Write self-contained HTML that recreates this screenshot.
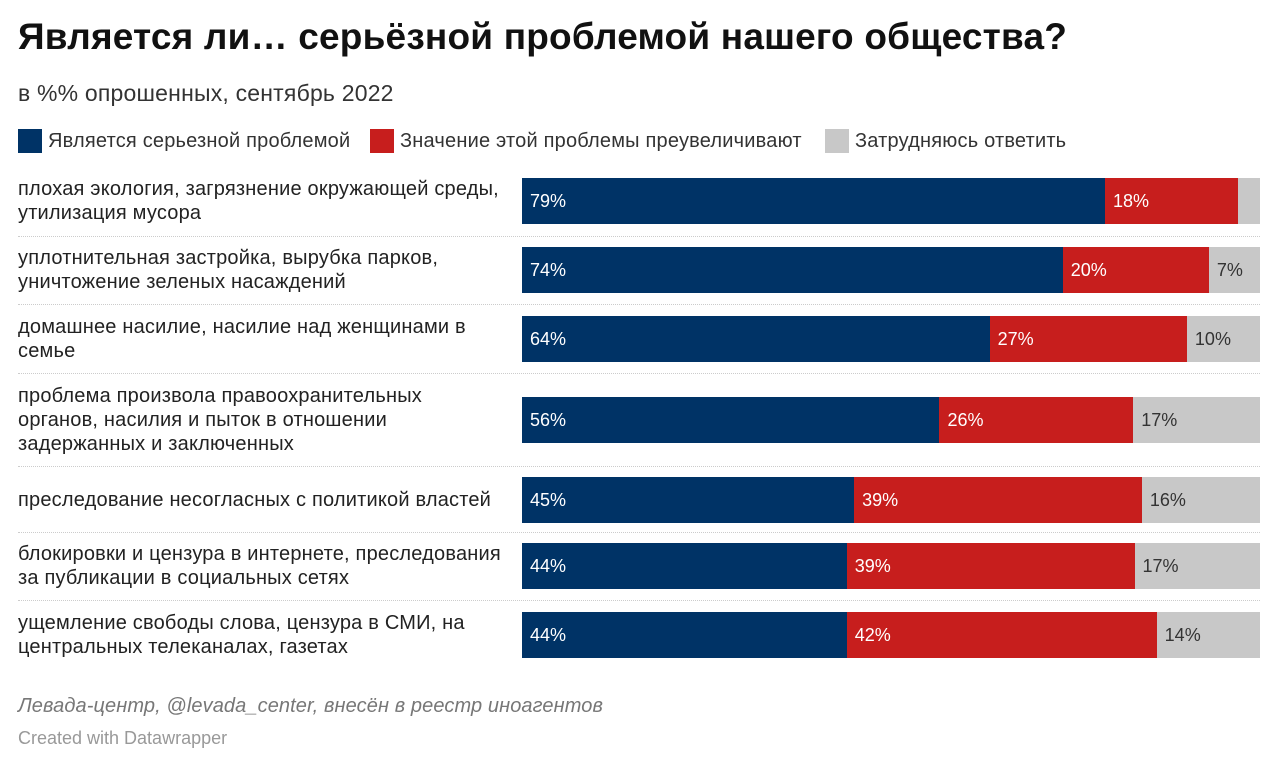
<!DOCTYPE html>
<html><head><meta charset="utf-8"><style>
body{margin:0;width:1280px;height:769px;background:#fff;font-family:"Liberation Sans",sans-serif;color:#222;position:relative;overflow:hidden}
.t{position:absolute;white-space:nowrap}
.sw{position:absolute;width:24px;height:24px;top:129px}
.lab{position:absolute;left:18px;font-size:20px;line-height:24px;color:#222;width:500px;letter-spacing:0.2px;white-space:nowrap}
.sep{position:absolute;left:18px;width:1242px;border-top:1px dotted #ccc;height:0}
.val{position:absolute;font-size:18px;line-height:46px}
</style></head><body>
<div class="t" style="left:18px;top:16px;font-size:37px;font-weight:bold;color:#111;letter-spacing:0.2px">Является ли… серьёзной проблемой нашего общества?</div>
<div class="t" style="left:18px;top:80px;font-size:23px;color:#333;letter-spacing:0.2px">в %% опрошенных, сентябрь 2022</div>
<div class="sw" style="left:18px;background:#003366"></div>
<div class="t" style="left:48px;top:129px;font-size:20px;line-height:24px;color:#333;letter-spacing:0.2px">Является серьезной проблемой</div>
<div class="sw" style="left:370px;background:#c71e1d"></div>
<div class="t" style="left:400px;top:129px;font-size:20px;line-height:24px;color:#333;letter-spacing:0.2px">Значение этой проблемы преувеличивают</div>
<div class="sw" style="left:825px;background:#c8c8c8"></div>
<div class="t" style="left:855px;top:129px;font-size:20px;line-height:24px;color:#333;letter-spacing:0.2px">Затрудняюсь ответить</div>
<div id="chart"></div>
<div class="t" style="left:18px;top:695px;font-size:20px;font-style:italic;color:#777;letter-spacing:0.1px">Левада-центр, @levada_center, внесён в реестр иноагентов</div>
<div class="t" style="left:18px;top:728px;font-size:18px;color:#999">Created with Datawrapper</div>
<script>
const categories=[["плохая экология, загрязнение окружающей среды,","утилизация мусора"],["уплотнительная застройка, вырубка парков,","уничтожение зеленых насаждений"],["домашнее насилие, насилие над женщинами в","семье"],["проблема произвола правоохранительных","органов, насилия и пыток в отношении","задержанных и заключенных"],["преследование несогласных с политикой властей"],["блокировки и цензура в интернете, преследования","за публикации в социальных сетях"],["ущемление свободы слова, цензура в СМИ, на","центральных телеканалах, газетах"]];
const serious=[79,74,64,56,45,44,44];
const exaggerated=[18,20,27,26,39,39,42];
const unsure=[3,7,10,17,16,17,14];
const showUnsureLabel=[false,true,true,true,true,true,true];
const barCenters=[201,270,339,420,500,566,635];
const seps=[236,304,373,466,532,600];
const X0=522,W=738,BH=46;
const root=document.getElementById('chart');
seps.forEach(y=>{const d=document.createElement('div');d.className='sep';d.style.top=y+'px';


root.appendChild(d);});
categories.forEach((lines,i)=>{
 const c=barCenters[i];
 const l=document.createElement('div');l.className='lab';
 l.style.top=(c-lines.length*12)+'px';l.innerHTML=lines.join('<br>');
 
 
 root.appendChild(l);
 const vals=[serious[i],exaggerated[i],unsure[i]];const tot=vals.reduce((a,b)=>a+b,0);
 const cols=['#003366','#c71e1d','#c8c8c8'];const tcol=['#fff','#fff','#333'];
 const names=['bar-serious','bar-exaggerated','bar-unsure'];
 let x=X0;
 vals.forEach((v,k)=>{const w=v/tot*W;
  const b=document.createElement('div');b.style.cssText=`position:absolute;left:${x}px;top:${c-BH/2}px;width:${w}px;height:${BH}px;background:${cols[k]}`;
  
  
  root.appendChild(b);
  if(k<2||showUnsureLabel[i]){const t=document.createElement('div');t.className='val';t.textContent=v+'%';
   t.style.cssText+=`left:${x+8}px;top:${c-BH/2}px;color:${tcol[k]}`;
   
   
   root.appendChild(t);}
  x+=w;});
});
</script>
</body></html>
